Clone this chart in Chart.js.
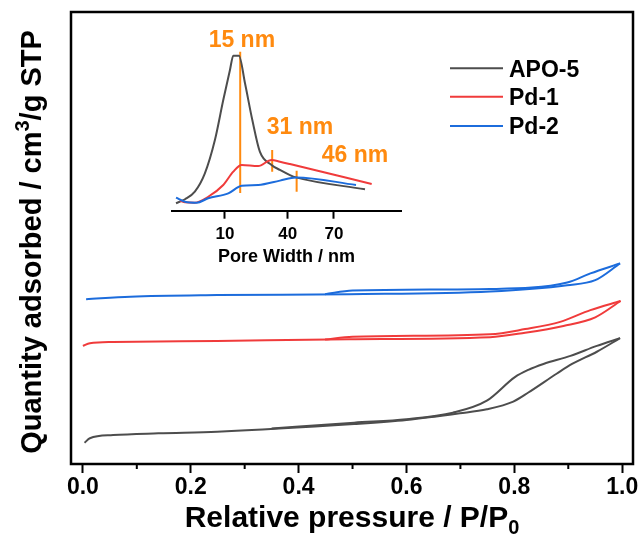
<!DOCTYPE html>
<html><head><meta charset="utf-8">
<script src="https://cdn.jsdelivr.net/npm/chart.js@4/dist/chart.umd.min.js"></script>
<style>
html,body{margin:0;padding:0;background:#fff;}
#wrap{position:relative;width:644px;height:545px;}
#main{position:absolute;left:0;top:0;}
#inset{position:absolute;left:171px;top:30px;}
</style></head><body>
<div id="wrap"><canvas id="main" width="644" height="545"></canvas><canvas id="inset" width="231" height="240"></canvas></div>
<script>
// ---------- main isotherm data (relative pressure, quantity adsorbed in arbitrary offset units) ----------
const apo5AdsP = [0.003, 0.013, 0.056, 0.14, 0.249, 0.503, 0.600, 0.699, 0.749, 0.798, 0.826, 0.879, 0.907, 0.953, 0.996];
const apo5AdsQ = [4.9, 5.9, 6.6, 7.0, 7.35, 9.05, 9.93, 11.4, 12.3, 14.0, 16.0, 20.2, 22.3, 25.0, 28.0];
const apo5DesP = [0.996, 0.953, 0.904, 0.854, 0.826, 0.801, 0.749, 0.686, 0.600, 0.503, 0.35];
const apo5DesQ = [28.0, 26.3, 24.1, 22.3, 21.0, 19.4, 14.2, 11.55, 10.1, 9.35, 8.03];

const pd1AdsP = [0.0, 0.013, 0.056, 0.249, 0.494, 0.755, 0.82, 0.891, 0.950, 0.997];
const pd1AdsQ = [26.3, 26.9, 27.15, 27.4, 27.75, 28.2, 29.2, 30.7, 32.6, 36.2];
const pd1DesP = [0.997, 0.941, 0.885, 0.82, 0.755, 0.50, 0.449];
const pd1DesQ = [36.2, 34.2, 31.6, 30.0, 28.85, 28.3, 27.7];

const pd2AdsP = [0.006, 0.088, 0.249, 0.494, 0.755, 0.898, 0.950, 0.996];
const pd2AdsQ = [36.6, 37.15, 37.5, 37.7, 38.3, 39.7, 40.8, 44.5];
const pd2DesP = [0.996, 0.941, 0.898, 0.755, 0.50, 0.449];
const pd2DesQ = [44.5, 42.3, 40.3, 38.85, 38.5, 37.7];

const sampleLabels = ['APO-5', 'Pd-1', 'Pd-2'];
const sampleColors = ['#4d4d4d', '#f03b3b', '#1c6cdc'];
const xMajorTicks = [0, 0.2, 0.4, 0.6, 0.8, 1.0];
const xMinorTicks = [0.1, 0.3, 0.5, 0.7, 0.9];

// ---------- inset pore size distribution (axis position units, relative intensity) ----------
const insetApo5W = [-13.4, -9.1, -4.4, 0.4, 5.2, 9.2, 12.4, 14.0, 16.7, 19.6, 23.1, 26.7, 32.3, 36.3, 41.1, 44.0, 77.0];
const insetApo5I = [4.8, 7.4, 12.3, 24.1, 45.6, 71.4, 90.8, 100, 100, 82.2, 58.5, 38.1, 29.5, 26.3, 23.0, 21.5, 13.8];
const insetPd1W = [-11.5, -9.1, -4.4, 2.0, 9.2, 14.0, 18.0, 25.9, 32.3, 36.3, 41.1, 80.2];
const insetPd1I = [6.5, 5.4, 5.2, 9.0, 16.6, 25.2, 29.5, 28.8, 32.7, 31.6, 30.1, 17.2];
const insetPd2W = [-13.4, -9.1, -3.5, 2.0, 11.6, 18.0, 25.9, 36.3, 44.0, 72.7];
const insetPd2I = [8.4, 5.8, 5.2, 8.0, 11.2, 16.1, 16.6, 19.4, 21.5, 16.6];
const insetTickPos = [10, 40, 62.15];
const insetTickLabels = ['10', '40', '70'];
const markerW = [17.3, 32.6, 44.3];
const markerLow = [11.4, 25.2, 12.3];
const markerHigh = [102.6, 39.2, 25.8];
const markerText = ['15 nm', '31 nm', '46 nm'];
const markerTextW = [18.1, 45.9, 72.2];
const markerTextI = [110, 53.4, 35.3];
const ORANGE = '#ff8a0f';

const FONT = '"Liberation Sans", Arial, Helvetica, sans-serif';
const pts = (xs, ys) => xs.map((x, i) => ({x: x, y: ys[i]}));

function richWidth(ctx, segs, size) {
  let w = 0;
  for (const s of segs) {
    ctx.font = 'bold ' + ((s.sub || s.sup) ? Math.round(size * 0.68) : size) + 'px ' + FONT;
    w += ctx.measureText(s.t).width;
  }
  return w;
}
function drawRich(ctx, segs, size, x, y) {
  const w = richWidth(ctx, segs, size);
  let cx = x - w / 2;
  ctx.textAlign = 'left';
  ctx.textBaseline = 'alphabetic';
  ctx.fillStyle = '#000';
  for (const s of segs) {
    ctx.font = 'bold ' + ((s.sub || s.sup) ? Math.round(size * 0.68) : size) + 'px ' + FONT;
    const dy = s.sub ? size * 0.24 : (s.sup ? -size * 0.4 : 0);
    ctx.fillText(s.t, cx, y + dy);
    cx += ctx.measureText(s.t).width;
  }
}

const mainDecor = {
  id: 'mainDecor',
  afterDraw(chart) {
    const ctx = chart.ctx, a = chart.chartArea, xs = chart.scales.x;
    ctx.save();
    // frame
    ctx.strokeStyle = '#000';
    ctx.lineWidth = 2.5;
    ctx.strokeRect(a.left, a.top, a.right - a.left, a.bottom - a.top);
    // minor ticks
    ctx.lineWidth = 2;
    for (const v of xMinorTicks) {
      const p = xs.getPixelForValue(v);
      ctx.beginPath(); ctx.moveTo(p, a.bottom); ctx.lineTo(p, a.bottom + 5); ctx.stroke();
    }
    // legend
    const ly = [68.3, 96.7, 126];
    for (let i = 0; i < sampleLabels.length; i++) {
      ctx.strokeStyle = sampleColors[i];
      ctx.lineWidth = 2;
      ctx.beginPath(); ctx.moveTo(450, ly[i]); ctx.lineTo(503, ly[i]); ctx.stroke();
      ctx.fillStyle = '#000';
      ctx.font = 'bold 23px ' + FONT;
      ctx.textAlign = 'left';
      ctx.textBaseline = 'alphabetic';
      ctx.fillText(sampleLabels[i], 509, ly[i] + 8.2);
    }
    // x title
    drawRich(ctx, [{t: 'Relative pressure / P/P'}, {t: '0', sub: true}], 30, (a.left + a.right) / 2, 527);
    // y title
    ctx.translate(41, (a.top + a.bottom) / 2 + 4);
    ctx.rotate(-Math.PI / 2);
    drawRich(ctx, [{t: 'Quantity adsorbed / cm'}, {t: '3', sup: true}, {t: '/g STP'}], 29, 0, 0);
    ctx.restore();
  }
};

const ds = (xs, ys, c) => ({data: pts(xs, ys), borderColor: c, backgroundColor: c, borderWidth: 2, pointRadius: 0, fill: false, cubicInterpolationMode: 'monotone'});

new Chart(document.getElementById('main'), {
  type: 'line',
  data: {datasets: [
    ds(apo5AdsP, apo5AdsQ, sampleColors[0]), ds(apo5DesP, apo5DesQ, sampleColors[0]),
    ds(pd1AdsP, pd1AdsQ, sampleColors[1]), ds(pd1DesP, pd1DesQ, sampleColors[1]),
    ds(pd2AdsP, pd2AdsQ, sampleColors[2]), ds(pd2DesP, pd2DesQ, sampleColors[2])
  ]},
  options: {
    responsive: false, animation: false, devicePixelRatio: 1,
    layout: {padding: {top: 12, right: 11, left: 0, bottom: 0}},
    plugins: {legend: {display: false}, tooltip: {enabled: false}},
    scales: {
      x: {type: 'linear', min: -0.022, max: 1.02,
        afterFit(s) { s.height = 81; },
        afterBuildTicks(s) { s.ticks = xMajorTicks.map(v => ({value: v})); },
        ticks: {callback: v => Number(v).toFixed(1), font: {size: 23, weight: 'bold', family: FONT}, color: '#000', padding: 1, maxRotation: 0, autoSkip: false},
        grid: {display: true, drawOnChartArea: false, drawTicks: true, tickLength: 9, tickWidth: 2, tickColor: '#000'},
        border: {display: false}},
      y: {type: 'linear', min: 0.22, max: 100,
        afterFit(s) { s.width = 71; },
        ticks: {display: false}, grid: {display: false}, border: {display: false}}
    }
  },
  plugins: [mainDecor]
});

const insetLabels = {
  id: 'insetLabels',
  afterDatasetsDraw(chart) {
    const ctx = chart.ctx, xs = chart.scales.x, ys = chart.scales.y;
    ctx.save();
    ctx.fillStyle = ORANGE;
    ctx.font = 'bold 23px ' + FONT;
    ctx.textAlign = 'center';
    ctx.textBaseline = 'middle';
    for (let i = 0; i < markerText.length; i++) {
      ctx.fillText(markerText[i], xs.getPixelForValue(markerTextW[i]), ys.getPixelForValue(markerTextI[i]));
    }
    ctx.restore();
  }
};

const insetSets = [
  ds(insetPd2W, insetPd2I, sampleColors[2]),
  ds(insetPd1W, insetPd1I, sampleColors[1]),
  ds(insetApo5W, insetApo5I, sampleColors[0])
];
for (let i = 0; i < markerW.length; i++) {
  insetSets.push({data: [{x: markerW[i], y: markerLow[i]}, {x: markerW[i], y: markerHigh[i]}], borderColor: ORANGE, borderWidth: 2, pointRadius: 0, tension: 0});
}

new Chart(document.getElementById('inset'), {
  type: 'line',
  data: {datasets: insetSets},
  options: {
    responsive: false, animation: false, devicePixelRatio: 1,
    layout: {padding: 0},
    plugins: {legend: {display: false}, tooltip: {enabled: false}},
    scales: {
      x: {type: 'linear', min: -15.8, max: 94.7,
        afterFit(s) { s.height = 59.3; },
        afterBuildTicks(s) { s.ticks = insetTickPos.map(v => ({value: v})); },
        ticks: {callback: (v, i) => insetTickLabels[i], font: {size: 17, weight: 'bold', family: FONT}, color: '#000', padding: 5, maxRotation: 0, autoSkip: false},
        grid: {display: true, drawOnChartArea: false, drawTicks: true, tickLength: 8, tickWidth: 2, tickColor: '#000'},
        border: {display: true, width: 2, color: '#000'},
        title: {display: true, text: 'Pore Width / nm', color: '#000', font: {size: 18, weight: 'bold', family: FONT}, padding: {top: 0, bottom: 2}}},
      y: {display: false, min: 0, max: 116.6}
    }
  },
  plugins: [insetLabels]
});
</script>
</body></html>
